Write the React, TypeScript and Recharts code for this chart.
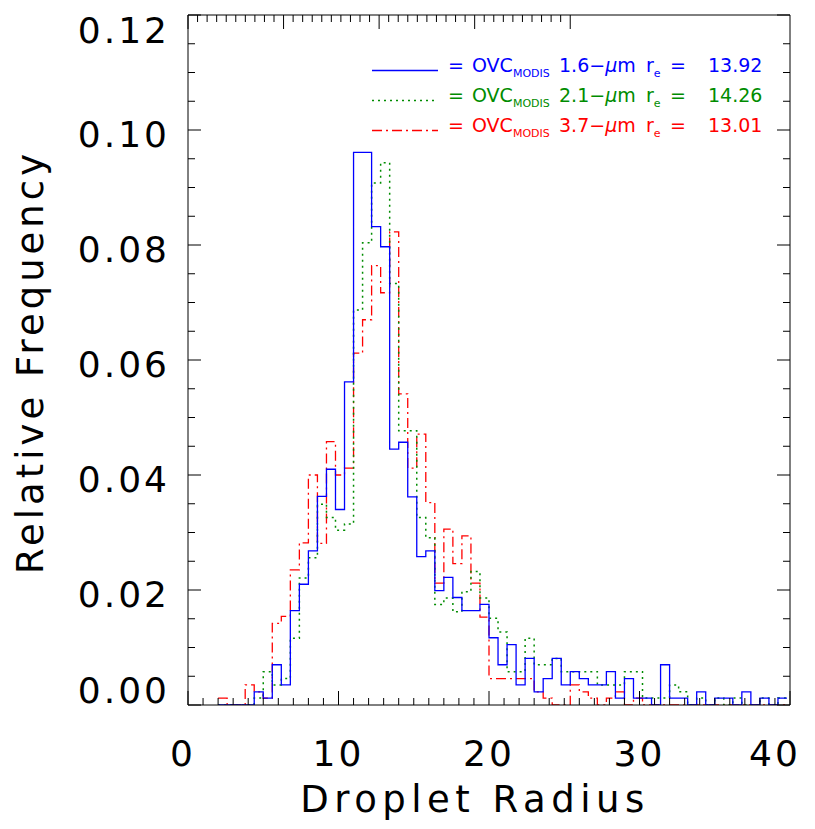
import { LineChart, Line, XAxis, YAxis } from "recharts";

// left edges of the 0.6-wide radius bins (last value closes the final bin)
const binEdges = [
  2.0, 2.6, 3.2, 3.8, 4.4, 5.0, 5.6, 6.2, 6.8, 7.4, 8.0, 8.6, 9.2, 9.8, 10.4,
  11.0, 11.6, 12.2, 12.8, 13.4, 14.0, 14.6, 15.2, 15.8, 16.4, 17.0, 17.6, 18.2,
  18.8, 19.4, 20.0, 20.6, 21.2, 21.8, 22.4, 23.0, 23.6, 24.2, 24.8, 25.4, 26.0,
  26.6, 27.2, 27.8, 28.4, 29.0, 29.6, 30.2, 30.8, 31.4, 32.0, 32.6, 33.2, 33.8,
  34.4, 35.0, 35.6, 36.2, 36.8, 37.4, 38.0, 38.6, 39.2, 39.8,
];

const modis16 = [
  0, 0, 0, 0, 0.0023, 0.0012, 0.007, 0.0035, 0.0164, 0.021, 0.0268, 0.0363,
  0.041, 0.034, 0.0562, 0.0961, 0.0961, 0.0832, 0.0797, 0.0445, 0.0457, 0.0362,
  0.0258, 0.0268, 0.0199, 0.0222, 0.0187, 0.0164, 0.0164, 0.0175, 0.0117, 0.007,
  0.0105, 0.0035, 0.0081, 0.0023, 0.0046, 0.0081, 0.0035, 0.0058, 0.0046, 0.0035,
  0.0035, 0.0058, 0.0012, 0.0046, 0.0012, 0.0012, 0, 0.007, 0.0012, 0.0012, 0,
  0.0023, 0, 0.0012, 0.0012, 0, 0.0023, 0, 0.0012, 0, 0.0012,
];

const modis21 = [
  0, 0, 0, 0, 0.0012, 0.0058, 0.0035, 0.0046, 0.0116, 0.0221, 0.0256, 0.0349,
  0.0326, 0.0304, 0.0315, 0.0687, 0.0804, 0.0908, 0.0943, 0.0733, 0.0477, 0.0477,
  0.0326, 0.0291, 0.0175, 0.0186, 0.0162, 0.0197, 0.0232, 0.0186, 0.0151, 0.0127,
  0.0058, 0.0058, 0.0116, 0.007, 0.007, 0.0081, 0.0058, 0.0058, 0.0058, 0.0058,
  0.0035, 0.0035, 0.0035, 0.0058, 0.0058, 0.0012, 0.0012, 0.0012, 0.0035, 0.0023,
  0, 0.0012, 0, 0.0012, 0, 0.0012, 0, 0, 0.0012, 0, 0.0012,
];

const modis37 = [
  0.0012, 0, 0, 0.0035, 0.0023, 0.0012, 0.0142, 0.0154, 0.0235, 0.0282, 0.04,
  0.0281, 0.0458, 0.04, 0.0412, 0.0612, 0.067, 0.0764, 0.0717, 0.0823, 0.0541,
  0.0412, 0.0471, 0.0352, 0.0212, 0.0306, 0.0246, 0.0294, 0.0212, 0.0153, 0.0046,
  0.0046, 0.0046, 0.0046, 0.0046, 0.0023, 0.0012, 0, 0, 0.0035, 0.0023, 0.0012, 0,
  0.0012, 0.0023, 0, 0.0012, 0, 0, 0, 0, 0, 0, 0, 0, 0, 0, 0, 0, 0, 0, 0, 0,
];

const xTicks = [
  0, 1, 2, 3, 4, 5, 6, 7, 8, 9, 10, 11, 12, 13, 14, 15, 16, 17, 18, 19, 20, 21,
  22, 23, 24, 25, 26, 27, 28, 29, 30, 31, 32, 33, 34, 35, 36, 37, 38, 39, 40,
];
const xMajor = [0, 10, 20, 30, 40];

const yTicks = [
  0, 0.005, 0.01, 0.015, 0.02, 0.025, 0.03, 0.035, 0.04, 0.045, 0.05, 0.055, 0.06,
  0.065, 0.07, 0.075, 0.08, 0.085, 0.09, 0.095, 0.1, 0.105, 0.11, 0.115, 0.12,
];

const legendRows = [
  { band: "1.6", re: "13.92", color: "#0000ff", dash: undefined },
  { band: "2.1", re: "14.26", color: "#008c00", dash: "2 4" },
  { band: "3.7", re: "13.01", color: "#ff0000", dash: "10 4 2 4" },
];

const data = binEdges.map((x, i) => {
  const j = Math.min(i, modis16.length - 1);
  return { x, b16: modis16[j], b21: modis21[j], b37: modis37[j] };
});

const FONT = "DejaVu Sans";

const isYMajor = (v: number) => Math.round(v * 1000) % 20 === 0;

function BottomTick(props: any) {
  const { x, y, payload } = props;
  const v = payload.value;
  const major = xMajor.includes(v);
  const shift = v === 0 ? -5 : v === 40 ? -15 : 0;
  return (
    <g>
      <line x1={x} y1={y} x2={x} y2={y - (major ? 14 : 7)} stroke="#000" />
      {major && (
        <text x={x + shift} y={y + 48} textAnchor="middle" dominantBaseline="central"
          fontFamily={FONT} fontSize={36} letterSpacing={3} fill="#000">
          {v}
        </text>
      )}
    </g>
  );
}

function TopTick(props: any) {
  const { x, y, payload } = props;
  const major = xMajor.includes(payload.value);
  return <line x1={x} y1={y} x2={x} y2={y + (major ? 14 : 7)} stroke="#000" />;
}

function LeftTick(props: any) {
  const { x, y, payload } = props;
  const v = payload.value;
  const major = isYMajor(v);
  const dy = v === 0 ? -15 : v > 0.115 ? 15 : 4;
  return (
    <g>
      <line x1={x} y1={y} x2={x + (major ? 13 : 7)} y2={y} stroke="#000" />
      {major && (
        <text x={x - 18} y={y + dy} textAnchor="end" dominantBaseline="central"
          fontFamily={FONT} fontSize={36} letterSpacing={3} fill="#000">
          {v.toFixed(2)}
        </text>
      )}
    </g>
  );
}

function RightTick(props: any) {
  const { x, y, payload } = props;
  const major = isYMajor(payload.value);
  return <line x1={x} y1={y} x2={x - (major ? 13 : 7)} y2={y} stroke="#000" />;
}

export default function App() {
  return (
    <div style={{ position: "absolute", left: 0, top: 0, width: 815, height: 829, background: "#fff" }}>
      <LineChart width={815} height={829} data={data}
        margin={{ top: 14, right: 24, bottom: 123, left: 187 }}>
        <XAxis dataKey="x" type="number" domain={[0, 40]} ticks={xTicks} interval={0}
          height={1} tickSize={0} tickMargin={0} tickLine={false} tick={<BottomTick />}
          axisLine={{ stroke: "#000" }} allowDataOverflow
          label={{ value: "Droplet Radius", position: "bottom", offset: 80, dx: -14,
            fontFamily: FONT, fontSize: 37, letterSpacing: 5.5, fill: "#000" }} />
        <XAxis xAxisId="top" orientation="top" type="number" domain={[0, 40]} ticks={xTicks}
          interval={0} height={1} tickSize={0} tickMargin={0} tickLine={false}
          tick={<TopTick />} axisLine={{ stroke: "#000" }} allowDataOverflow />
        <YAxis type="number" domain={[0, 0.12]} ticks={yTicks} interval={0} width={1}
          tickSize={0} tickMargin={0} tickLine={false} tick={<LeftTick />}
          axisLine={{ stroke: "#000" }} allowDataOverflow
          label={{
            content: () => (
              <text x={30} y={362} transform="rotate(-90, 30, 362)" textAnchor="middle"
                dominantBaseline="central" fontFamily={FONT} fontSize={37} letterSpacing={4} fill="#000">
                Relative Frequency
              </text>
            ),
          }} />
        <YAxis yAxisId="right" orientation="right" type="number" domain={[0, 0.12]} ticks={yTicks}
          interval={0} width={1} tickSize={0} tickMargin={0} tickLine={false}
          tick={<RightTick />} axisLine={{ stroke: "#000" }} allowDataOverflow />
        <Line dataKey="b37" type="stepAfter" stroke="#ff0000" strokeWidth={1.3}
          strokeDasharray="10 4 2 4" dot={false} isAnimationActive={false} />
        <Line dataKey="b21" type="stepAfter" stroke="#008c00" strokeWidth={1.5}
          strokeDasharray="2 4" dot={false} isAnimationActive={false} />
        <Line dataKey="b16" type="stepAfter" stroke="#0000ff" strokeWidth={1.3}
          dot={false} isAnimationActive={false} />
      </LineChart>
      <svg width={815} height={829} style={{ position: "absolute", left: 0, top: 0, pointerEvents: "none" }}>
        {legendRows.map((r, i) => {
          const base = 72 + i * 30;
          return (
            <g key={r.band}>
              <line x1={372} x2={438} y1={base - 1.5} y2={base - 1.5} stroke={r.color}
                strokeWidth={1.4} strokeDasharray={r.dash} />
              <text y={base} fill={r.color} fontFamily={FONT} fontSize={19}>
                <tspan x={448}>=</tspan>
                <tspan x={472}>OVC</tspan>
                <tspan fontSize={11} dy={5}>MODIS</tspan>
                <tspan x={559} dy={-5}>{r.band}−</tspan>
                <tspan fontStyle="italic">μ</tspan>
                <tspan>m</tspan>
                <tspan x={646}>r</tspan>
                <tspan fontSize={11} dy={5}>e</tspan>
                <tspan x={670} dy={-5}>=</tspan>
                <tspan x={708}>{r.re}</tspan>
              </text>
            </g>
          );
        })}
      </svg>
    </div>
  );
}
